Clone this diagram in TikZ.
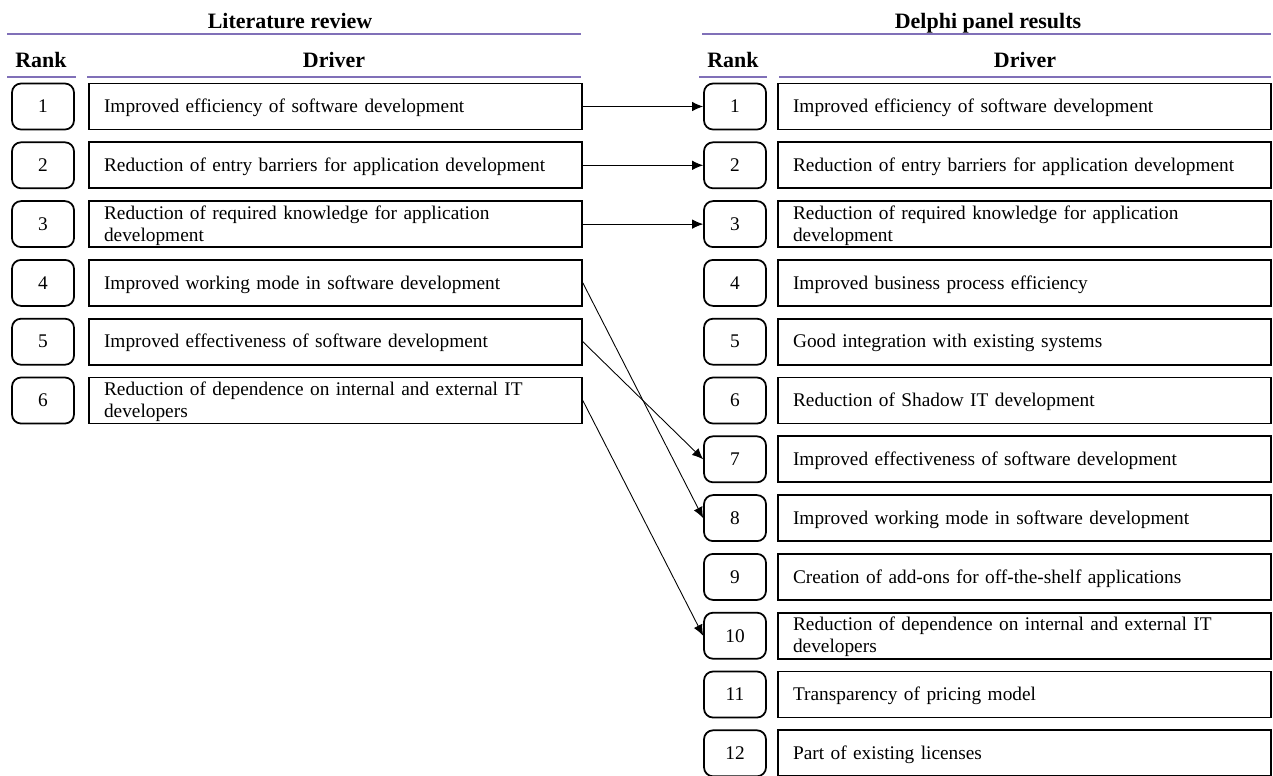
\documentclass[tikz,border=0pt]{standalone}
\usepackage{fontspec}
\setmainfont{Liberation Serif}
\usepackage{xcolor}
\usepackage{tikz}
\usetikzlibrary{arrows.meta}
\definecolor{rulepurple}{RGB}{128,112,184}

\begin{document}
\begin{tikzpicture}[
	x=0.02cm, y=-0.02cm,
	every node/.style={font=\fontsize{11}{12.5}\selectfont},
	rank box/.style={
		draw, line width=1pt, rounded corners=1.8mm,
		minimum width=1.24cm, minimum height=0.92cm, inner sep=0pt
	},
	driver box/.style={
		draw, line width=1pt,
		minimum height=0.92cm, text width=9.26cm,
		inner xsep=0.3cm, inner ysep=0pt, align=left
	},
	head/.style={anchor=base, font=\fontsize{12.5}{14}\selectfont\bfseries},
	head rule/.style={draw=rulepurple, line width=0.8pt},
	link/.style={
		draw,
		-{Latex[length=2.2mm,width=1.9mm]}, line width=0.5pt
	}
	]
	\useasboundingbox (0,0) rectangle (1273,775);

	% headings
	\node[head] (lithead) at (290,28.5) {Literature review};
	\node[head] (litrankhead) at (41,67) {Rank};
	\node[head] (litdrvhead) at (334,67) {Driver};
	\node[head] (delhead) at (988,28.5) {Delphi panel results};
	\node[head] (delrankhead) at (733,67) {Rank};
	\node[head] (deldrvhead) at (1025,67) {Driver};
	\draw[head rule] (7,34) -- (581,34);
	\draw[head rule] (7,77) -- (76,77);
	\draw[head rule] (87,77) -- (581,77);
	\draw[head rule] (702,34) -- (1271,34);
	\draw[head rule] (699,77) -- (767,77);
	\draw[head rule] (779,77) -- (1271,77);

	% literature review
	\foreach \i/\txt in {
		1/{Improved efficiency of software development},
		2/{Reduction of entry barriers for application development},
		3/{Reduction of required knowledge for application\\development},
		4/{Improved working mode in software development},
		5/{Improved effectiveness of software development},
		6/{Reduction of dependence on internal and external IT\\developers}}
	{
		\node[rank box] (litrank\i) at (43,{106.5+58.8*(\i-1)}) {\i};
		\node[driver box] (litdrv\i) at (335.5,{106.5+58.8*(\i-1)})
			{\rule{0pt}{10pt}\txt\rule[-3pt]{0pt}{0pt}};
	}

	% delphi panel results
	\foreach \i/\txt in {
		1/{Improved efficiency of software development},
		2/{Reduction of entry barriers for application development},
		3/{Reduction of required knowledge for application\\development},
		4/{Improved business process efficiency},
		5/{Good integration with existing systems},
		6/{Reduction of Shadow IT development},
		7/{Improved effectiveness of software development},
		8/{Improved working mode in software development},
		9/{Creation of add-ons for off-the-shelf applications},
		10/{Reduction of dependence on internal and external IT\\developers},
		11/{Transparency of pricing model},
		12/{Part of existing licenses}}
	{
		\node[rank box] (delrank\i) at (735,{106.5+58.8*(\i-1)}) {\i};
		\node[driver box] (deldrv\i) at (1024.5,{106.5+58.8*(\i-1)})
			{\rule{0pt}{10pt}\txt\rule[-3pt]{0pt}{0pt}};
	}

	% rank changes
	\foreach \from/\to in {1/1, 2/2, 3/3, 4/8, 5/7, 6/10}
		\draw[link] (litdrv\from.east) -- (delrank\to.west);
\end{tikzpicture}
\end{document}
